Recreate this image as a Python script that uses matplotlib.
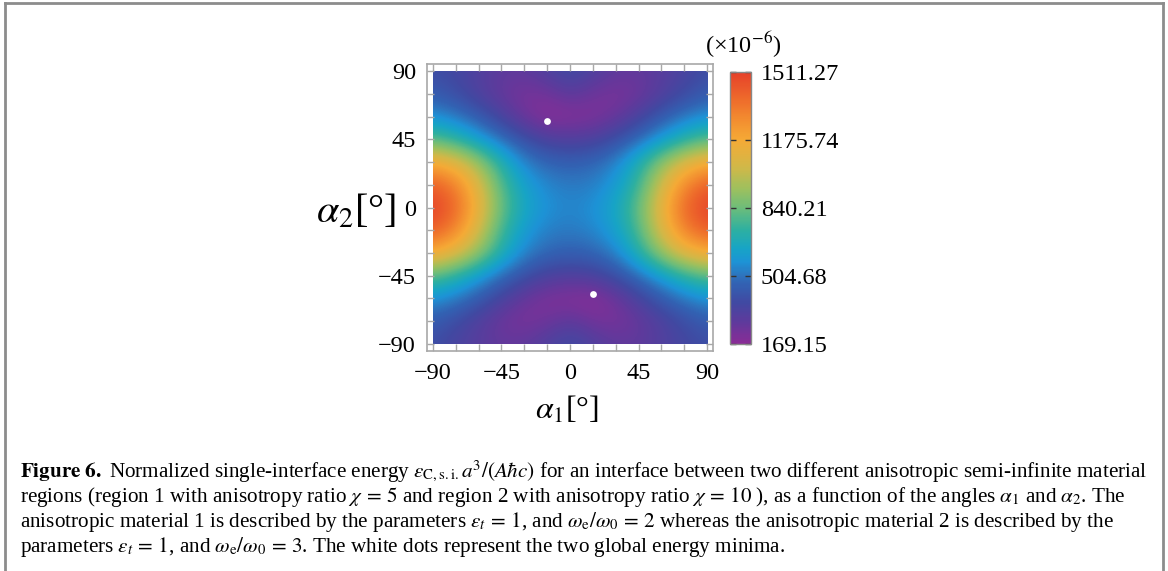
import numpy as np
import matplotlib
matplotlib.use("Agg")
import matplotlib.pyplot as plt
from matplotlib.colors import LinearSegmentedColormap, Normalize
from matplotlib.patches import Rectangle
from matplotlib.lines import Line2D

plt.rcParams['font.family'] = ['Liberation Serif', 'DejaVu Serif']
plt.rcParams['mathtext.fontset'] = 'stix'

# grid of the angles (degrees)
alpha1 = [-90, -75, -60, -45, -30, -15, 0, 15, 30, 45, 60, 75, 90]
alpha2 = [-90, -75, -60, -45, -30, -15, 0, 15, 30, 45, 60, 75, 90]

# normalized energy (x1e-6), one row per alpha2 value
e_m90 = [390, 340, 300, 270, 280, 330, 390, 330, 280, 280, 320, 360, 390]
e_m75 = [440, 380, 310, 240, 210, 240, 290, 230, 215, 260, 320, 390, 440]
e_m60 = [570, 520, 440, 340, 250, 200, 185, 172, 240, 340, 440, 520, 570]
e_m45 = [800, 710, 600, 490, 400, 330, 315, 330, 400, 500, 610, 720, 800]
e_m30 = [1180, 1080, 900, 690, 540, 475, 455, 470, 540, 700, 920, 1100, 1180]
e_m15 = [1420, 1300, 1050, 760, 600, 530, 520, 545, 620, 790, 1080, 1320, 1420]
e_0 = [1511, 1390, 1130, 830, 650, 570, 545, 570, 650, 830, 1130, 1390, 1511]
e_15 = [1420, 1320, 1080, 790, 620, 545, 520, 530, 600, 760, 1050, 1300, 1420]
e_30 = [1180, 1100, 920, 700, 540, 470, 455, 475, 540, 690, 900, 1080, 1180]
e_45 = [800, 720, 610, 500, 400, 330, 315, 330, 400, 490, 600, 710, 800]
e_60 = [570, 520, 440, 340, 240, 172, 185, 200, 250, 340, 440, 520, 570]
e_75 = [440, 390, 320, 260, 215, 230, 290, 240, 210, 240, 310, 380, 440]
e_90 = [390, 360, 320, 280, 280, 330, 390, 330, 280, 270, 300, 340, 390]

# global minima (white dots)
min_a1 = [-15, 15]
min_a2 = [57, -57]

cbar_ticks = [169.15, 504.68, 840.21, 1175.74, 1511.27]

energy = np.array([e_m90, e_m75, e_m60, e_m45, e_m30, e_m15, e_0,
                   e_15, e_30, e_45, e_60, e_75, e_90])

cmap = LinearSegmentedColormap.from_list("rainbowish", [
    (0.00, "#8a2c96"), (0.08, "#5e3a9c"), (0.15, "#4149a2"),
    (0.22, "#3262b3"), (0.25, "#2e73bd"), (0.30, "#1d93d6"),
    (0.35, "#17a4c6"), (0.42, "#2eb0a0"), (0.50, "#6dbd7a"),
    (0.57, "#9dc05e"), (0.65, "#d1b848"), (0.75, "#f5aa36"),
    (0.82, "#f38f30"), (0.90, "#ee6b2b"), (1.00, "#e6402a")])
norm = Normalize(vmin=cbar_ticks[0], vmax=cbar_ticks[-1])

W, H = 1168, 571
fig = plt.figure(figsize=(W / 100, H / 100), dpi=100)

def box(x0, y0, x1, y1):
    # pixel box (top-left origin) -> figure fraction rect
    return [x0 / W, 1 - y1 / H, (x1 - x0) / W, (y1 - y0) / H]

ax = fig.add_axes(box(427, 64.5, 713, 350.5))
step = alpha1[1] - alpha1[0]
im = ax.imshow(energy, cmap=cmap, norm=norm, origin='lower', interpolation='bicubic',
               extent=[alpha1[0] - step / 2, alpha1[-1] + step / 2,
                       alpha2[0] - step / 2, alpha2[-1] + step / 2],
               aspect='auto')
im.set_clip_path(Rectangle((alpha1[0], alpha2[0]), alpha1[-1] - alpha1[0],
                           alpha2[-1] - alpha2[0], transform=ax.transData))
ax.scatter(min_a1, min_a2, s=24, color='white', zorder=3, linewidths=0)
ax.set_xlim(-93.9, 93.9)
ax.set_ylim(-94.4, 94.4)

ax.set_xticks([-90, -45, 0, 45, 90])
ax.set_yticks([-90, -45, 0, 45, 90])
ax.set_xticks(np.arange(-90, 91, 15), minor=True)
ax.set_yticks(np.arange(-90, 91, 15), minor=True)
ax.set_xticklabels(['\u221290', '\u221245', '0', '45', '90'])
ax.set_yticklabels(['\u221290', '\u221245', '0', '45', '90'])
ax.tick_params(which='both', direction='in', top=True, right=True, color='#a8a8a8',
               length=5, width=1, labelsize=17.5)
ax.tick_params(axis='y', pad=8)
ax.tick_params(axis='x', pad=9)
for sp in ax.spines.values():
    sp.set_color('#a8a8a8')
    sp.set_linewidth(1.2)

# colorbar
cax = fig.add_axes(box(730, 71.7, 751, 344))
cb = fig.colorbar(im, cax=cax, ticks=cbar_ticks)
cb.ax.set_yticklabels(['%.2f' % t for t in cbar_ticks])
cb.ax.tick_params(direction='in', left=True, right=True, length=4, width=1,
                  color='#333333', labelsize=17.5, pad=7)
cb.outline.set_edgecolor('#888888')
cb.outline.set_linewidth(1)
fig.text(743 / W, 1 - 45 / H, '(\u00d710$^{-6}$)', ha='center', va='center', fontsize=17.5)

# axis labels
fig.text(396 / W, 1 - 212 / H, r'$\alpha_2$[°]', ha='right', va='center', fontsize=29)
fig.text(567 / W, 1 - 410 / H, r'$\alpha_1$[°]', ha='center', va='center', fontsize=23)

# caption
caption = [
    r'$\mathbf{Figure\ 6.}$ Normalized single-interface energy $\varepsilon_{\rm C,s.i.}a^3/(A\hbar c)$'
    r' for an interface between two different anisotropic semi-infinite material',
    r'regions (region 1 with anisotropy ratio $\chi\,=\,5$ and region 2 with anisotropy ratio'
    r' $\chi\,=\,10$ ), as a function of the angles $\alpha_1$ and $\alpha_2$. The',
    r'anisotropic material 1 is described by the parameters $\varepsilon_t\,=\,1$, and'
    r' $\omega_{\rm e}/\omega_0\,=\,2$ whereas the anisotropic material 2 is described by the',
    r'parameters $\varepsilon_t\,=\,1$, and $\omega_{\rm e}/\omega_0\,=\,3$. The white dots'
    r' represent the two global energy minima.',
]
for i, line in enumerate(caption):
    fig.text(20 / W, 1 - (477 + 25 * i) / H, line, ha='left', va='baseline', fontsize=15.2)

# page frame
for xs, ys in [([5, 5], [H, 3]), ([5, 1163], [3, 3]), ([1163, 1163], [3, H])]:
    fig.add_artist(Line2D([x / W for x in xs], [1 - y / H for y in ys],
                          color='#8c8c8c', linewidth=2, transform=fig.transFigure))

fig.savefig('out.png', dpi=100)
